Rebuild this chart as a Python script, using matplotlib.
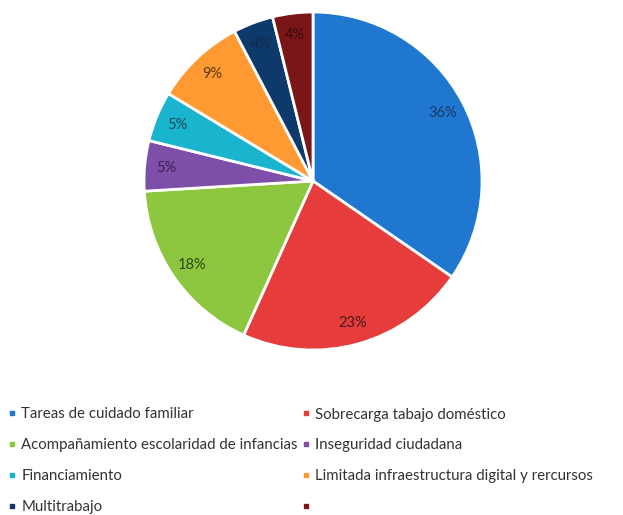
import matplotlib.pyplot as plt
from matplotlib.lines import Line2D

categories = [
    "Tareas de cuidado familiar",
    "Sobrecarga tabajo doméstico",
    "Acompañamiento escolaridad de infancias",
    "Inseguridad ciudadana",
    "Financiamiento",
    "Limitada infraestructura digital y rercursos",
    "Multitrabajo",
    "",
]
values = [36, 23, 18, 5, 5, 9, 4, 4]
colors = ["#1F77CF", "#E63C3C", "#8DC63F", "#7E4FA8", "#1BB4CF", "#FF9A33", "#0E3A6B", "#7A1518"]
label_colors = ["#1A3A66", "#4A1A1A", "#2E4A12", "#3A2250", "#0E4A55", "#5A3A10", "#0E2A4A", "#3A0A0A"]

plt.rcParams['font.family'] = ['Lato', 'DejaVu Sans']

fig = plt.figure(figsize=(6.23, 5.15), dpi=100)
ax = fig.add_axes([144 / 623, 165 / 515, 338 / 623, 338 / 515])

wedges, texts = ax.pie(values, colors=colors, startangle=90, counterclock=False,
                       labels=[f"{v}%" for v in values], labeldistance=0.87,
                       wedgeprops=dict(edgecolor="white", linewidth=2))
for t, c in zip(texts, label_colors):
    t.set_color(c)
    t.set_fontsize(10.5)
    t.set_ha("center")
    t.set_va("center")
ax.set_xlim(-1, 1)
ax.set_ylim(-1, 1)
ax.set_aspect("equal")

# legend is filled column by column, so reorder to read row by row
order = [0, 2, 4, 6, 1, 3, 5, 7]
handles = [Line2D([], [], marker="s", linestyle="none", markersize=3.5,
                  color=colors[i]) for i in order]
fig.legend(handles, [categories[i] for i in order], ncol=2, loc="upper left",
           bbox_to_anchor=(-0.008, 1 - 394 / 515), frameon=False, fontsize=10.8,
           handlelength=0.5, handletextpad=0.35, labelspacing=1.13,
           columnspacing=0.3, labelcolor="#333333")

fig.savefig("out.png", dpi=100, facecolor="white")
